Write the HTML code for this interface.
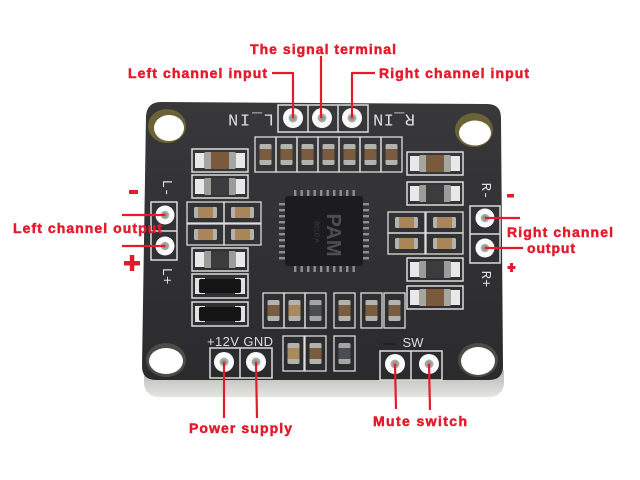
<!DOCTYPE html>
<html><head><meta charset="utf-8"><style>
html,body{margin:0;padding:0;background:#fff;}
svg{display:block;}
</style></head><body>
<svg width="640" height="480" viewBox="0 0 640 480" xmlns="http://www.w3.org/2000/svg">
<defs>
<linearGradient id="bd" x1="0" y1="0" x2="0" y2="1">
<stop offset="0" stop-color="#38383b"/><stop offset="1" stop-color="#2b2b2e"/>
</linearGradient>
<linearGradient id="edge" x1="0" y1="0" x2="0" y2="1">
<stop offset="0" stop-color="#a8a8a3"/><stop offset="1" stop-color="#e4e4e0"/>
</linearGradient>
<radialGradient id="pinh" cx="0.5" cy="0.5" r="0.5">
<stop offset="0" stop-color="#7f847c"/><stop offset="1" stop-color="#b5b8b2"/>
</radialGradient>
<g id="bigBrown">
<rect x="0" y="0" width="56" height="23" fill="none" stroke="#dcdcdc" stroke-width="1.5"/>
<rect x="3" y="4" width="11" height="15" fill="#e8e8e8"/>
<rect x="42" y="4" width="11" height="15" fill="#e8e8e8"/>
<rect x="12" y="3" width="32" height="17" rx="2" fill="#a6a6a1"/>
<rect x="19" y="3" width="18" height="17" fill="#7a5a3c"/>
</g>
<g id="bigGray">
<rect x="0" y="0" width="56" height="23" fill="none" stroke="#dcdcdc" stroke-width="1.5"/>
<rect x="3" y="4" width="11" height="15" fill="#e8e8e8"/>
<rect x="42" y="4" width="11" height="15" fill="#e8e8e8"/>
<rect x="12" y="3" width="32" height="17" rx="2" fill="#9c9c98"/>
<rect x="19" y="3" width="18" height="17" fill="#3c3c3e"/>
</g>
<g id="bigBlack">
<rect x="0" y="0" width="56" height="24" fill="none" stroke="#dcdcdc" stroke-width="1.5"/>
<rect x="3" y="4" width="10" height="16" fill="#e0e0e0"/>
<rect x="43" y="4" width="10" height="16" fill="#e0e0e0"/>
<rect x="7" y="5" width="42" height="14" rx="2" fill="#141415"/>
</g>
<g id="cellH">
<rect x="0" y="0" width="37" height="21" fill="none" stroke="#dcdcdc" stroke-width="1.3"/>
<rect x="7" y="5" width="23" height="11" rx="1.5" fill="#b3b3ae"/>
<rect x="11" y="5" width="15" height="11" fill="#a8865a"/>
</g>
<g id="cellVb">
<rect x="0" y="0" width="21" height="35" fill="none" stroke="#dcdcdc" stroke-width="1.3"/>
<rect x="4.5" y="7" width="12" height="21" rx="1.5" fill="#b3b3ae"/>
<rect x="4.5" y="12" width="12" height="11" fill="#7a5d40"/>
</g>
<g id="cellVt">
<rect x="0" y="0" width="21" height="35" fill="none" stroke="#dcdcdc" stroke-width="1.3"/>
<rect x="4.5" y="7" width="12" height="21" rx="1.5" fill="#b3b3ae"/>
<rect x="4.5" y="12" width="12" height="11" fill="#a98a5e"/>
</g>
<g id="cellVd">
<rect x="0" y="0" width="21" height="35" fill="none" stroke="#dcdcdc" stroke-width="1.3"/>
<rect x="4.5" y="7" width="12" height="21" rx="1.5" fill="#a3a6a2"/>
<rect x="4.5" y="12" width="12" height="11" fill="#4a4e50"/>
</g>
</defs>

<!-- board edge (bottom thickness) -->
<rect x="144" y="360" width="360" height="37" rx="14" fill="url(#edge)"/>
<!-- board -->
<path d="M161,102 L487,104 Q501,104 501,118 L503,366 Q503,380 489,380 L156,380 Q142,380 142,366 L146,116 Q147,102 161,102 Z" fill="url(#bd)"/>

<!-- holes -->
<ellipse cx="167" cy="126" rx="19" ry="17" fill="#6a6336"/>
<ellipse cx="169" cy="128" rx="15" ry="13" fill="#fff"/>
<ellipse cx="474" cy="130" rx="19" ry="17" fill="#6a6336"/>
<ellipse cx="475" cy="133" rx="16" ry="12.5" fill="#fff"/>
<ellipse cx="166" cy="360" rx="20" ry="17" fill="#4d4b45"/>
<ellipse cx="166" cy="361" rx="17" ry="13" fill="#fff"/>
<ellipse cx="478" cy="360" rx="20" ry="17" fill="#4d4b45"/>
<ellipse cx="478" cy="361" rx="17" ry="14" fill="#fff"/>

<!-- top header -->
<rect x="278" y="105" width="90" height="27" fill="none" stroke="#dcdcdc" stroke-width="1.5"/>
<line x1="308" y1="105" x2="308" y2="132" stroke="#dcdcdc" stroke-width="1.5"/>
<line x1="338" y1="105" x2="338" y2="132" stroke="#dcdcdc" stroke-width="1.5"/>
<g fill="#fafafa">
<circle cx="293" cy="118" r="10"/><circle cx="322" cy="118" r="10"/><circle cx="352" cy="118" r="10"/>
</g>
<g fill="url(#pinh)">
<circle cx="293" cy="118" r="4.5"/><circle cx="322" cy="118" r="4.5"/><circle cx="352" cy="118" r="4.5"/>
</g>
<g font-family="Liberation Mono, monospace" fill="#dedede" font-size="17">
<text x="251" y="118" text-anchor="middle" dominant-baseline="central" textLength="46" transform="rotate(180 251 118)">L_IN</text>
<text x="394" y="118" text-anchor="middle" dominant-baseline="central" textLength="42" transform="rotate(180 394 118)">R_IN</text>
</g>

<!-- left header -->
<rect x="151" y="202" width="26" height="58" fill="none" stroke="#dcdcdc" stroke-width="1.5"/>
<line x1="151" y1="231" x2="177" y2="231" stroke="#dcdcdc" stroke-width="1.5"/>
<circle cx="165" cy="215" r="9.5" fill="#fafafa"/><circle cx="165" cy="246" r="9.5" fill="#fafafa"/>
<circle cx="165" cy="215" r="4.3" fill="url(#pinh)"/><circle cx="165" cy="246" r="4.3" fill="url(#pinh)"/>
<!-- right header -->
<rect x="470" y="206" width="30" height="57" fill="none" stroke="#dcdcdc" stroke-width="1.5"/>
<line x1="470" y1="234" x2="500" y2="234" stroke="#dcdcdc" stroke-width="1.5"/>
<circle cx="485" cy="218" r="9.5" fill="#fafafa"/><circle cx="485" cy="248" r="9.5" fill="#fafafa"/>
<circle cx="485" cy="218" r="4.3" fill="url(#pinh)"/><circle cx="485" cy="248" r="4.3" fill="url(#pinh)"/>
<g font-family="Liberation Mono, monospace" fill="#dedede" font-size="14">
<text x="166" y="188" text-anchor="middle" dominant-baseline="central" transform="rotate(90 166 188)">L-</text>
<text x="166" y="276" text-anchor="middle" dominant-baseline="central" transform="rotate(90 166 276)">L+</text>
<text x="485" y="191" text-anchor="middle" dominant-baseline="central" transform="rotate(90 485 191)">R-</text>
<text x="485" y="279" text-anchor="middle" dominant-baseline="central" transform="rotate(90 485 279)">R+</text>
</g>

<!-- bottom headers -->
<rect x="210" y="348" width="62" height="30" fill="none" stroke="#dcdcdc" stroke-width="1.5"/>
<line x1="240" y1="348" x2="240" y2="378" stroke="#dcdcdc" stroke-width="1.5"/>
<rect x="380" y="351" width="62" height="29" fill="none" stroke="#dcdcdc" stroke-width="1.5"/>
<line x1="411" y1="351" x2="411" y2="380" stroke="#dcdcdc" stroke-width="1.5"/>
<g fill="#fafafa">
<circle cx="224" cy="362" r="10"/><circle cx="256" cy="362" r="10"/>
<circle cx="395" cy="364" r="10"/><circle cx="429" cy="364" r="10"/>
</g>
<g fill="url(#pinh)">
<circle cx="224" cy="362" r="4.5"/><circle cx="256" cy="362" r="4.5"/>
<circle cx="395" cy="364" r="4.5"/><circle cx="429" cy="364" r="4.5"/>
</g>
<g font-family="Liberation Sans, sans-serif" fill="#dedede" font-size="13">
<text x="240" y="346" text-anchor="middle" textLength="66">+12V GND</text>
<text x="413" y="347" text-anchor="middle">SW</text>
</g>
<line x1="383" y1="344" x2="396" y2="344" stroke="#1e1e20" stroke-width="1.5"/>

<!-- left column components -->
<use href="#bigBrown" x="192" y="149"/>
<use href="#bigGray" x="192" y="175"/>
<use href="#cellH" x="187" y="202"/>
<use href="#cellH" x="224" y="202"/>
<use href="#cellH" x="187" y="224"/>
<use href="#cellH" x="224" y="224"/>
<use href="#bigGray" x="192" y="248"/>
<use href="#bigBlack" x="192" y="274"/>
<use href="#bigBlack" x="192" y="302"/>

<!-- right column components -->
<use href="#bigBrown" x="407" y="152"/>
<use href="#bigGray" x="407" y="182"/>
<use href="#cellH" x="388" y="212"/>
<use href="#cellH" x="426" y="212"/>
<use href="#cellH" x="388" y="233"/>
<use href="#cellH" x="426" y="233"/>
<use href="#bigGray" x="407" y="258"/>
<use href="#bigBrown" x="407" y="286"/>

<!-- top row -->
<use href="#cellVb" x="255" y="137"/>
<use href="#cellVb" x="276" y="137"/>
<use href="#cellVb" x="297" y="137"/>
<use href="#cellVb" x="318" y="137"/>
<use href="#cellVb" x="339" y="137"/>
<use href="#cellVb" x="360" y="137"/>
<use href="#cellVb" x="381" y="137"/>

<!-- bottom rows -->
<use href="#cellVb" x="263" y="293"/>
<use href="#cellVt" x="284" y="293"/>
<use href="#cellVd" x="305" y="293"/>
<use href="#cellVb" x="334" y="293"/>
<use href="#cellVb" x="361" y="293"/>
<use href="#cellVb" x="384" y="293"/>
<use href="#cellVt" x="283" y="336"/>
<use href="#cellVb" x="305" y="336"/>
<use href="#cellVd" x="334" y="336"/>

<!-- main chip -->
<g fill="#8e8e8e">
<rect x="294" y="190" width="2.4" height="7"/><rect x="300.5" y="190" width="2.4" height="7"/><rect x="307" y="190" width="2.4" height="7"/><rect x="313.5" y="190" width="2.4" height="7"/><rect x="320" y="190" width="2.4" height="7"/><rect x="326.5" y="190" width="2.4" height="7"/><rect x="333" y="190" width="2.4" height="7"/><rect x="339.5" y="190" width="2.4" height="7"/><rect x="346" y="190" width="2.4" height="7"/><rect x="352.5" y="190" width="2.4" height="7"/>
<rect x="294" y="265" width="2.4" height="7"/><rect x="300.5" y="265" width="2.4" height="7"/><rect x="307" y="265" width="2.4" height="7"/><rect x="313.5" y="265" width="2.4" height="7"/><rect x="320" y="265" width="2.4" height="7"/><rect x="326.5" y="265" width="2.4" height="7"/><rect x="333" y="265" width="2.4" height="7"/><rect x="339.5" y="265" width="2.4" height="7"/><rect x="346" y="265" width="2.4" height="7"/><rect x="352.5" y="265" width="2.4" height="7"/>
<rect x="279" y="203" width="7" height="2.4"/><rect x="279" y="209" width="7" height="2.4"/><rect x="279" y="215" width="7" height="2.4"/><rect x="279" y="221" width="7" height="2.4"/><rect x="279" y="227" width="7" height="2.4"/><rect x="279" y="233" width="7" height="2.4"/><rect x="279" y="239" width="7" height="2.4"/><rect x="279" y="245" width="7" height="2.4"/><rect x="279" y="251" width="7" height="2.4"/><rect x="279" y="257" width="7" height="2.4"/>
<rect x="362" y="203" width="7" height="2.4"/><rect x="362" y="209" width="7" height="2.4"/><rect x="362" y="215" width="7" height="2.4"/><rect x="362" y="221" width="7" height="2.4"/><rect x="362" y="227" width="7" height="2.4"/><rect x="362" y="233" width="7" height="2.4"/><rect x="362" y="239" width="7" height="2.4"/><rect x="362" y="245" width="7" height="2.4"/><rect x="362" y="251" width="7" height="2.4"/><rect x="362" y="257" width="7" height="2.4"/>
</g>
<rect x="285" y="196" width="78" height="70" rx="3" fill="#1c1c1e"/>
<text x="333" y="235" text-anchor="middle" dominant-baseline="central" font-family="Liberation Sans, sans-serif" font-weight="bold" font-size="20" fill="#4e4e4e" transform="rotate(90 333 235)">PAM</text>
<text x="316" y="232" text-anchor="middle" dominant-baseline="central" font-family="Liberation Sans, sans-serif" font-size="7" fill="#3e3e3e" transform="rotate(90 316 232)">8610 A</text>

<!-- red annotations -->
<g stroke="#e41b2c" stroke-width="2.2" fill="none" stroke-linejoin="round">
<polyline points="272,73 293,73 293,118"/>
<line x1="321" y1="56" x2="321" y2="118"/>
<polyline points="352,118 352,73 375,73"/>
<line x1="122" y1="215" x2="165" y2="215"/>
<line x1="122" y1="246" x2="165" y2="246"/>
<line x1="485" y1="218" x2="520" y2="218"/>
<line x1="485" y1="248" x2="523" y2="248"/>
<line x1="224" y1="362" x2="224" y2="418"/>
<line x1="256" y1="362" x2="257" y2="418"/>
<line x1="395" y1="364" x2="396" y2="409"/>
<line x1="429" y1="364" x2="430" y2="410"/>
</g>
<g fill="#e41b2c">
<rect x="129" y="190" width="9" height="4"/>
<rect x="124" y="261" width="16" height="4.5"/>
<rect x="129.8" y="255" width="4.5" height="16"/>
<rect x="507" y="194" width="7" height="3.5"/>
<rect x="507.5" y="266" width="8" height="3"/>
<rect x="510" y="263" width="3" height="9"/>
</g>
<g font-family="Liberation Sans, sans-serif" font-weight="bold" font-size="14" fill="#e41b2c" stroke="#e41b2c" stroke-width="0.5" lengthAdjust="spacing">
<text x="250" y="54" textLength="146">The signal terminal</text>
<text x="128" y="78" textLength="139">Left channel input</text>
<text x="379" y="78" textLength="150">Right channel input</text>
<text x="13" y="233" textLength="149">Left channel output</text>
<text x="507" y="237" textLength="106">Right channel</text>
<text x="527" y="253" textLength="48">output</text>
<text x="189" y="433" textLength="103">Power supply</text>
<text x="373" y="426" textLength="94">Mute switch</text>
</g>
</svg>
</body></html>
